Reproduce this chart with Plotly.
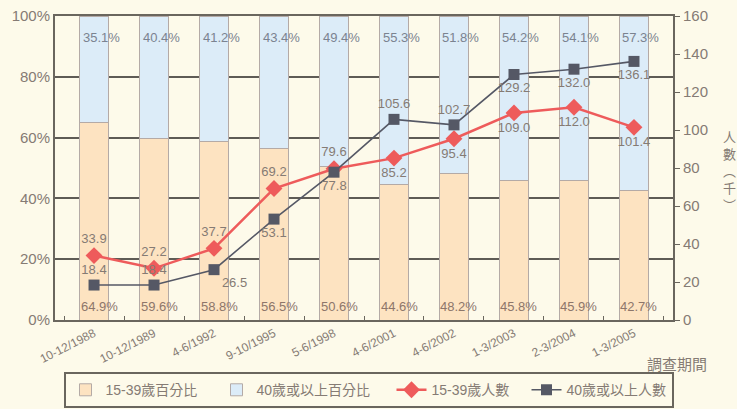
"""Survey periods: age-group shares (bars) and head counts (lines)."""

import plotly.graph_objects as go

periods = [
    "10-12/1988", "10-12/1989", "4-6/1992", "9-10/1995", "5-6/1998",
    "4-6/2001", "4-6/2002", "1-3/2003", "2-3/2004", "1-3/2005",
]
pct_15_39 = [64.9, 59.6, 58.8, 56.5, 50.6, 44.6, 48.2, 45.8, 45.9, 42.7]
pct_40_up = [35.1, 40.4, 41.2, 43.4, 49.4, 55.3, 51.8, 54.2, 54.1, 57.3]
count_15_39 = [33.9, 27.2, 37.7, 69.2, 79.6, 85.2, 95.4, 109.0, 112.0, 101.4]
count_40_up = [18.4, 18.4, 26.5, 53.1, 77.8, 105.6, 102.7, 129.2, 132.0, 136.1]

# where each value label sits relative to its marker
pos_15_39 = ["top center"] * 5 + ["bottom center"] * 5
pos_40_up = ["top center", "top center", "bottom right", "bottom center", "bottom center",
             "top center", "top center", "bottom center", "bottom center", "bottom center"]

right_title = ["人", "數", "︵", "千", "︶"]

FONT = "Liberation Sans, Noto Sans CJK TC, sans-serif"
BG = "#fdfaea"
TEXT = "#857b74"
AXIS = "#6a665e"

fig = go.Figure()
fig.add_trace(go.Bar(
    x=periods, y=pct_15_39, name="15-39歲百分比", legendwidth=106,
    marker={"color": "#fde3c1", "line": {"color": "#b4aaa6", "width": 1}},
    width=0.49,
))
fig.add_trace(go.Bar(
    x=periods, y=pct_40_up, name="40歲或以上百分比", legendwidth=130,
    marker={"color": "#dcecf8", "line": {"color": "#b4aaa6", "width": 1}},
    width=0.49,
))
fig.add_trace(go.Scatter(
    x=periods, y=count_15_39, yaxis="y2", name="15-39歲人數", legendwidth=90,
    mode="lines+markers+text",
    line={"color": "#ee5b5b", "width": 2.5},
    marker={"symbol": "diamond", "size": 13, "color": "#ee5b5b"},
    text=[f"{v:.1f}" for v in count_15_39], textposition=pos_15_39,
    textfont={"size": 13, "color": TEXT, "family": FONT},
))
fig.add_trace(go.Scatter(
    x=periods, y=count_40_up, yaxis="y2", name="40歲或以上人數", legendwidth=100,
    mode="lines+markers+text",
    line={"color": "#555865", "width": 1.6},
    marker={"symbol": "square", "size": 11, "color": "#555865"},
    text=[f"{v:.1f}" for v in count_40_up], textposition=pos_40_up,
    textfont={"size": 13, "color": TEXT, "family": FONT},
))

# percentage labels: 40+ share near the top, 15-39 share near the bottom
for p, a, b in zip(periods, pct_15_39, pct_40_up):
    fig.add_annotation(x=p, y=92.8, yref="y", text=f"{b:.1f}%", showarrow=False,
                       xshift=7, font={"size": 13, "color": "#7b8390"})
    fig.add_annotation(x=p, y=4.6, yref="y", text=f"{a:.1f}%", showarrow=False,
                       xshift=5, font={"size": 13, "color": "#8d766a"})

fig.add_annotation(x=1.006, y=-0.148, xref="paper", yref="paper", text="調查期間",
                   xanchor="center", yanchor="middle",
                   showarrow=False, font={"size": 15, "color": TEXT})
# vertical right-axis title, one character per line
fig.add_annotation(x=1.092, y=0.49, xref="paper", yref="paper",
                   text="<br>".join(right_title),
                   xanchor="center", yanchor="middle", showarrow=False,
                   font={"size": 13, "color": TEXT})

fig.update_layout(
    width=737, height=409,
    margin={"l": 55, "r": 64, "t": 16, "b": 89, "autoexpand": False},
    paper_bgcolor=BG, plot_bgcolor=BG,
    barmode="stack", bargap=0.5,
    font={"family": FONT, "color": TEXT, "size": 13},
    showlegend=True,
    legend={
        "orientation": "h", "xref": "container", "x": 0.5, "xanchor": "center",
        "yref": "container", "y": 0.09, "yanchor": "top",
        "traceorder": "normal",
        "bordercolor": AXIS, "borderwidth": 2, "bgcolor": BG,
        "font": {"size": 14, "color": TEXT},
    },
    xaxis={
        "type": "category", "tickangle": -27, "showline": True, "linecolor": AXIS,
        "linewidth": 2, "mirror": True, "ticks": "inside", "tickson": "boundaries",
        "ticklen": 4, "tickcolor": AXIS, "tickfont": {"size": 12, "color": TEXT},
        "showgrid": False, "automargin": False,
    },
    yaxis={
        "range": [0, 100], "dtick": 20, "ticksuffix": "%", "showline": True,
        "linecolor": AXIS, "linewidth": 2, "gridcolor": "#5e5b55", "gridwidth": 1.5,
        "tickfont": {"size": 15, "color": TEXT}, "zeroline": False, "automargin": False,
    },
    yaxis2={
        "range": [0, 160], "dtick": 20, "overlaying": "y", "side": "right",
        "showline": True, "linecolor": AXIS, "linewidth": 2, "showgrid": False,
        "ticks": "outside", "ticklen": 5, "tickcolor": AXIS,
        "tickfont": {"size": 15, "color": TEXT}, "zeroline": False, "automargin": False,
    },
)

fig.write_html("out.html", config={"displayModeBar": False},
               post_script="document.body.style.margin = '0';")
